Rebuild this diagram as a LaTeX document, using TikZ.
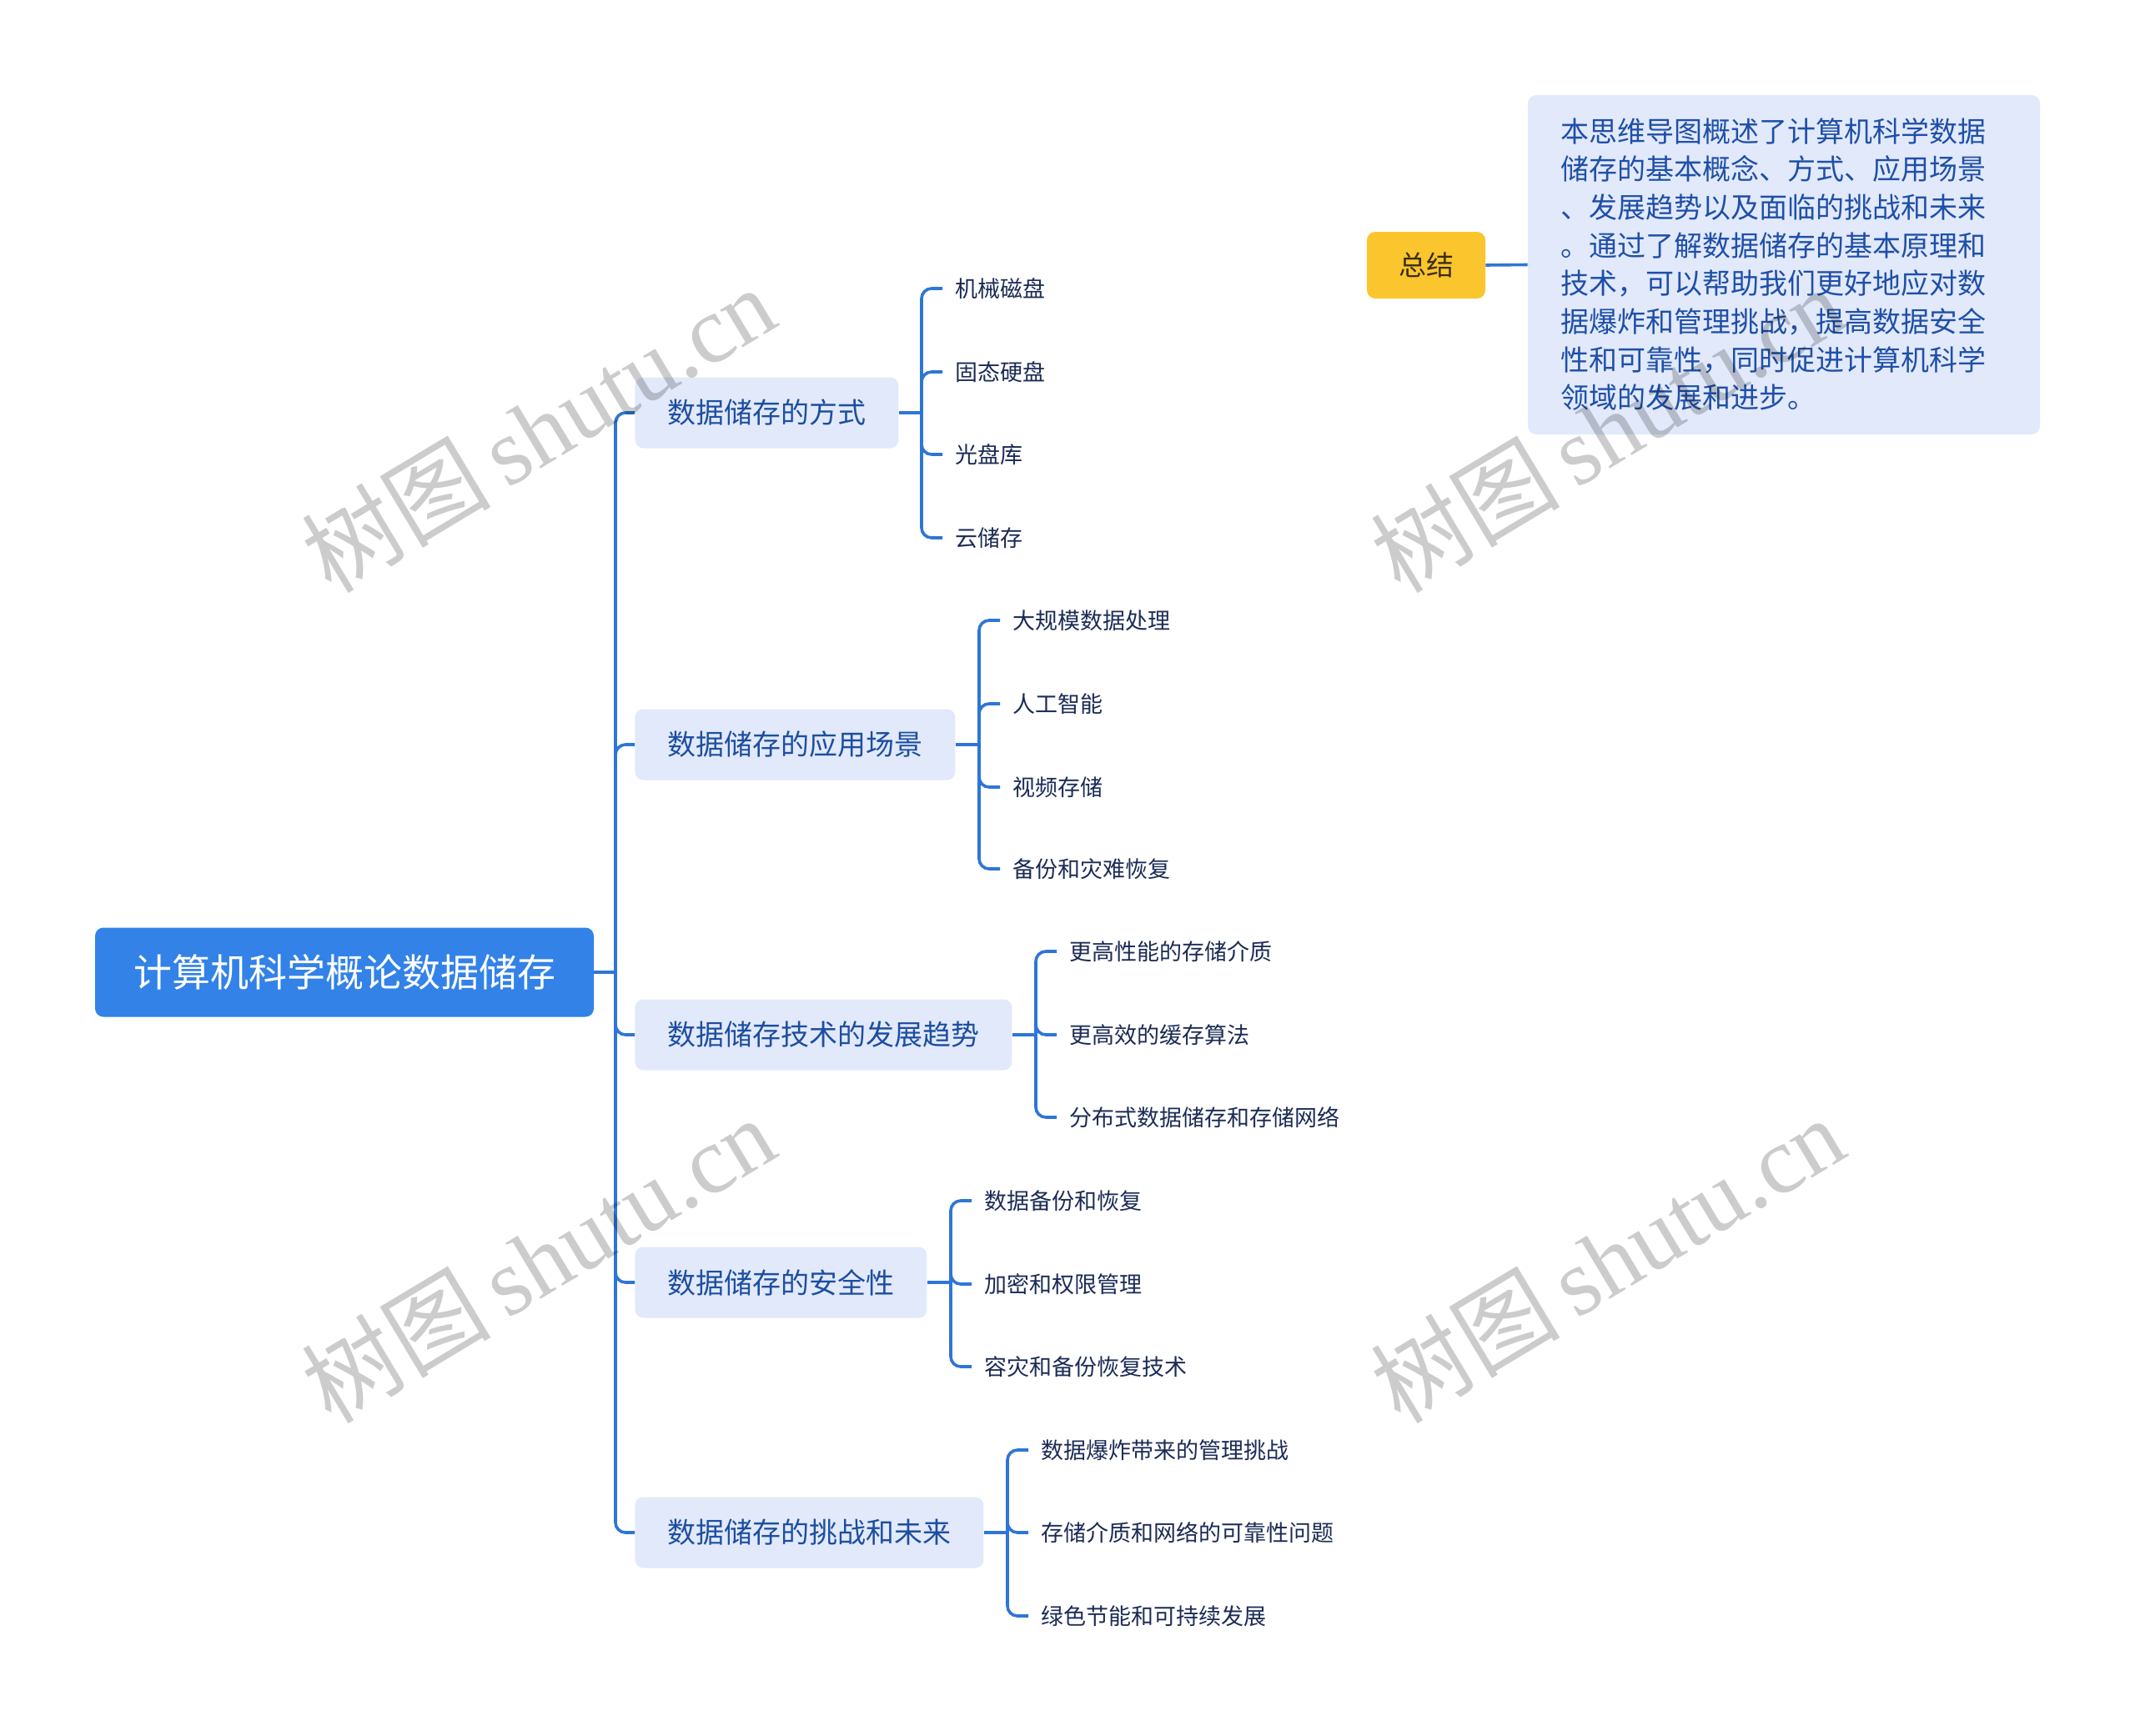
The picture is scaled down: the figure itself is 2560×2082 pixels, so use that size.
\documentclass[tikz,border=0pt]{standalone}
\usepackage{fontspec}
\newfontfamily\cjk{Noto Sans CJK SC}
\newfontfamily\cjklight{Noto Sans CJK SC Light}
\newfontfamily\wmserif{Liberation Serif}
\definecolor{rootblue}{HTML}{3282E8}
\definecolor{lvfill}{HTML}{E1E9FB}
\definecolor{lvtext}{HTML}{1D4EA0}
\definecolor{leaftext}{HTML}{1C2B55}
\definecolor{linec}{HTML}{2E76D6}
\definecolor{yel}{HTML}{FBC52E}
\definecolor{yeltext}{HTML}{3A2E12}
\definecolor{sumtext}{HTML}{1F4FA8}
\tikzset{
  rootbox/.style={draw=none, fill=rootblue, rounded corners=5pt, text=white,
    font=\cjk\fontsize{23pt}{27pt}\selectfont, minimum width=299pt, minimum height=53.5pt, inner sep=0pt},
  lvbox/.style={fill=lvfill, rounded corners=5pt, text=lvtext, anchor=west,
    font=\cjk\fontsize{17pt}{20pt}\selectfont, minimum height=42.5pt, inner xsep=19.5pt, inner ysep=0pt},
  leaf/.style={text=leaftext, anchor=west, font=\cjk\fontsize{13.5pt}{16pt}\selectfont, inner xsep=7.5pt, inner ysep=2pt},
  conn/.style={draw=linec, line width=1.8pt, rounded corners=6pt},
  yelbox/.style={fill=yel, rounded corners=5pt, text=yeltext, font=\cjk\fontsize{16.5pt}{20pt}\selectfont,
    minimum width=71pt, minimum height=40pt, inner sep=0pt},
  sumbox/.style={fill=lvfill, rounded corners=5pt, minimum width=307pt, minimum height=203.5pt, inner sep=0pt},
  sumtxt/.style={text=sumtext, anchor=west, align=left, inner sep=0pt,
    font=\cjk\fontsize{17pt}{22.85pt}\selectfont},
  wm/.style={text=black, text opacity=0.2, rotate=31, inner sep=0pt}
}
\begin{document}
\begin{tikzpicture}[x=0.5pt,y=-0.5pt]
\useasboundingbox[fill=white] (0,0) rectangle (2560,2082);

% root
\node[rootbox] (root) at (413,1166) {计算机科学概论数据储存};
\coordinate (tr) at (738,1166);

% level 1
\node[lvbox] (c1) at (761,495) {数据储存的方式};
\node[lvbox] (c2) at (761,893) {数据储存的应用场景};
\node[lvbox] (c3) at (761,1241) {数据储存技术的发展趋势};
\node[lvbox] (c4) at (761,1538) {数据储存的安全性};
\node[lvbox] (c5) at (761,1838) {数据储存的挑战和未来};

\draw[conn] (root.east) -- (tr);
\foreach \c in {c1,c2,c3,c4,c5} \draw[conn] (tr) |- (\c.west);

% group 1
\coordinate (b1) at (1105,495);
\node[leaf] (l11) at (1130,346) {机械磁盘};
\node[leaf] (l12) at (1130,446) {固态硬盘};
\node[leaf] (l13) at (1130,545) {光盘库};
\node[leaf] (l14) at (1130,645) {云储存};
\draw[conn] (c1.east) -- (b1);
\foreach \l in {l11,l12,l13,l14} \draw[conn] (b1) |- (\l.west);

% group 2
\coordinate (b2) at (1174,893);
\node[leaf] (l21) at (1199,744) {大规模数据处理};
\node[leaf] (l22) at (1199,844) {人工智能};
\node[leaf] (l23) at (1199,944) {视频存储};
\node[leaf] (l24) at (1199,1042) {备份和灾难恢复};
\draw[conn] (c2.east) -- (b2);
\foreach \l in {l21,l22,l23,l24} \draw[conn] (b2) |- (\l.west);

% group 3
\coordinate (b3) at (1242,1241);
\node[leaf] (l31) at (1267,1141) {更高性能的存储介质};
\node[leaf] (l32) at (1267,1241) {更高效的缓存算法};
\node[leaf] (l33) at (1267,1340) {分布式数据储存和存储网络};
\draw[conn] (c3.east) -- (b3);
\foreach \l in {l31,l32,l33} \draw[conn] (b3) |- (\l.west);

% group 4
\coordinate (b4) at (1140,1538);
\node[leaf] (l41) at (1165,1440) {数据备份和恢复};
\node[leaf] (l42) at (1165,1540) {加密和权限管理};
\node[leaf] (l43) at (1165,1639) {容灾和备份恢复技术};
\draw[conn] (c4.east) -- (b4);
\foreach \l in {l41,l42,l43} \draw[conn] (b4) |- (\l.west);

% group 5
\coordinate (b5) at (1208,1838);
\node[leaf] (l51) at (1233,1739) {数据爆炸带来的管理挑战};
\node[leaf] (l52) at (1233,1838) {存储介质和网络的可靠性问题};
\node[leaf] (l53) at (1233,1938) {绿色节能和可持续发展};
\draw[conn] (c5.east) -- (b5);
\foreach \l in {l51,l52,l53} \draw[conn] (b5) |- (\l.west);

% summary
\node[yelbox] (zj) at (1710,318) {总结};
\node[sumbox] (summ) at (2139,317.5) {};
\node[sumtxt] (stxt) at (1871,317) {本思维导图概述了计算机科学数据\\储存的基本概念、方式、应用场景\\、发展趋势以及面临的挑战和未来\\。通过了解数据储存的基本原理和\\技术，可以帮助我们更好地应对数\\据爆炸和管理挑战，提高数据安全\\性和可靠性，同时促进计算机科学\\领域的发展和进步。};
\draw[conn] (zj.east) -- (summ.west);

% watermarks
\node[wm] (w1) at (645,514) {\cjk\fontsize{57pt}{64pt}\selectfont 树图\,{\wmserif shutu.cn}};
\node[wm] (w2) at (645,1510) {\cjk\fontsize{57pt}{64pt}\selectfont 树图\,{\wmserif shutu.cn}};
\node[wm] (w3) at (1927,514) {\cjk\fontsize{57pt}{64pt}\selectfont 树图\,{\wmserif shutu.cn}};
\node[wm] (w4) at (1927,1510) {\cjk\fontsize{57pt}{64pt}\selectfont 树图\,{\wmserif shutu.cn}};
\end{tikzpicture}
\end{document}
